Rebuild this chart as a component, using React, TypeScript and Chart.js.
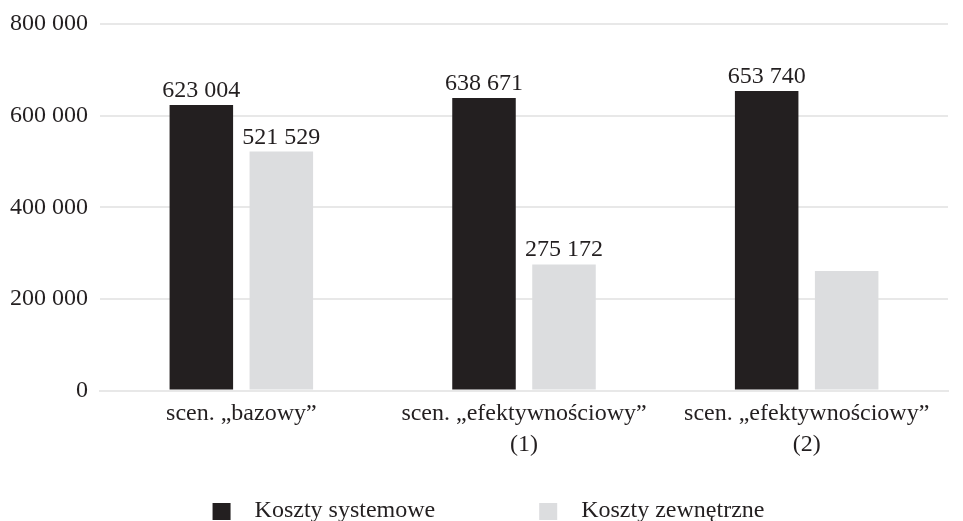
import React, { useEffect, useRef } from "react";
import { Chart, registerables } from "chart.js";

Chart.register(...registerables);

const categories: string[][] = [
  ["scen. „bazowy”"],
  ["scen. „efektywnościowy”", "(1)"],
  ["scen. „efektywnościowy”", "(2)"],
];
const seriesNames = ["Koszty systemowe", "Koszty zewnętrzne"];
const systemCosts = [623004, 638671, 653740];
const externalCosts = [521529, 275172, 261000];
const systemLabels: (string | null)[] = ["623 004", "638 671", "653 740"];
const externalLabels: (string | null)[] = ["521 529", "275 172", null];
const yTicks = { min: 0, max: 800000, step: 200000 };

const FONT = "'Liberation Serif', 'Times New Roman', serif";
const TEXT = "#231f20";
const DARK = "#231f20";
const LIGHT = "#dcdddf";
const GRID = "#e8e8e8";

const fmt = (v: number) => String(v).replace(/\B(?=(\d{3})+(?!\d))/g, " ");

const valueLabelsPlugin = {
  id: "valueLabels",
  afterDatasetsDraw(chart: any) {
    const ctx = chart.ctx;
    ctx.save();
    ctx.font = `24px ${FONT}`;
    ctx.fillStyle = TEXT;
    ctx.textAlign = "center";
    ctx.textBaseline = "alphabetic";
    chart.data.datasets.forEach((ds: any, i: number) => {
      const meta = chart.getDatasetMeta(i);
      meta.data.forEach((bar: any, j: number) => {
        const t = ds.valueLabels?.[j];
        if (t) ctx.fillText(t, bar.x, bar.y - 8);
      });
    });
    ctx.restore();
  },
};

const bottomLegendPlugin = {
  id: "bottomLegend",
  afterDraw(chart: any) {
    const ctx = chart.ctx;
    ctx.save();
    ctx.font = `24px ${FONT}`;
    const box = 18;
    const gap = 24;
    const itemGap = 104;
    const items = chart.data.datasets.map((ds: any) => ({
      text: ds.label,
      color: ds.backgroundColor,
      w: box + gap + ctx.measureText(ds.label).width,
    }));
    const total =
      items.reduce((s: number, it: any) => s + it.w, 0) + itemGap * (items.length - 1);
    let x = (chart.width - total) / 2 + 7;
    const baseline = 517;
    items.forEach((it: any) => {
      ctx.fillStyle = it.color;
      ctx.fillRect(x, 503, box, box - 1);
      ctx.fillStyle = TEXT;
      ctx.textAlign = "left";
      ctx.textBaseline = "alphabetic";
      ctx.fillText(it.text, x + box + gap, baseline);
      x += it.w + itemGap;
    });
    ctx.restore();
  },
};

export default function App() {
  const ref = useRef<HTMLCanvasElement | null>(null);
  useEffect(() => {
    if (!ref.current) return;
    const chart = new Chart(ref.current, {
      type: "bar",
      data: {
        labels: categories as any,
        datasets: [
          {
            label: seriesNames[0],
            data: systemCosts,
            backgroundColor: DARK,
            categoryPercentage: 0.566,
            barPercentage: 0.794,
            valueLabels: systemLabels,
          } as any,
          {
            label: seriesNames[1],
            data: externalCosts,
            backgroundColor: LIGHT,
            categoryPercentage: 0.566,
            barPercentage: 0.794,
            valueLabels: externalLabels,
          } as any,
        ],
      },
      options: {
        animation: false,
        responsive: false,
        maintainAspectRatio: false,
        layout: { padding: { left: -2, right: 15, top: 0, bottom: 61 } },
        plugins: {
          legend: { display: false },
          tooltip: { enabled: false },
        },
        scales: {
          x: {
            grid: { display: false },
            border: { display: true, color: GRID, width: 2 },
            ticks: {
              color: TEXT,
              font: { family: FONT, size: 24, lineHeight: 1.28 },
              padding: 0,
              maxRotation: 0,
              autoSkip: false,
            },
          },
          y: {
            min: yTicks.min,
            max: yTicks.max,
            grid: { color: GRID, lineWidth: 2, drawTicks: false },
            border: { display: false },
            ticks: {
              stepSize: yTicks.step,
              color: TEXT,
              font: { family: FONT, size: 24, lineHeight: 1.0 },
              padding: 12,
              callback: (v: any) => fmt(Number(v)),
            },
          },
        },
      },
      plugins: [valueLabelsPlugin, bottomLegendPlugin],
    });
    return () => chart.destroy();
  }, []);
  return (
    <div style={{ position: "absolute", left: 0, top: 0, width: 963, height: 521, background: "#fff" }}>
      <canvas ref={ref} width={963} height={521} style={{ display: "block", width: 963, height: 521 }} />
    </div>
  );
}
